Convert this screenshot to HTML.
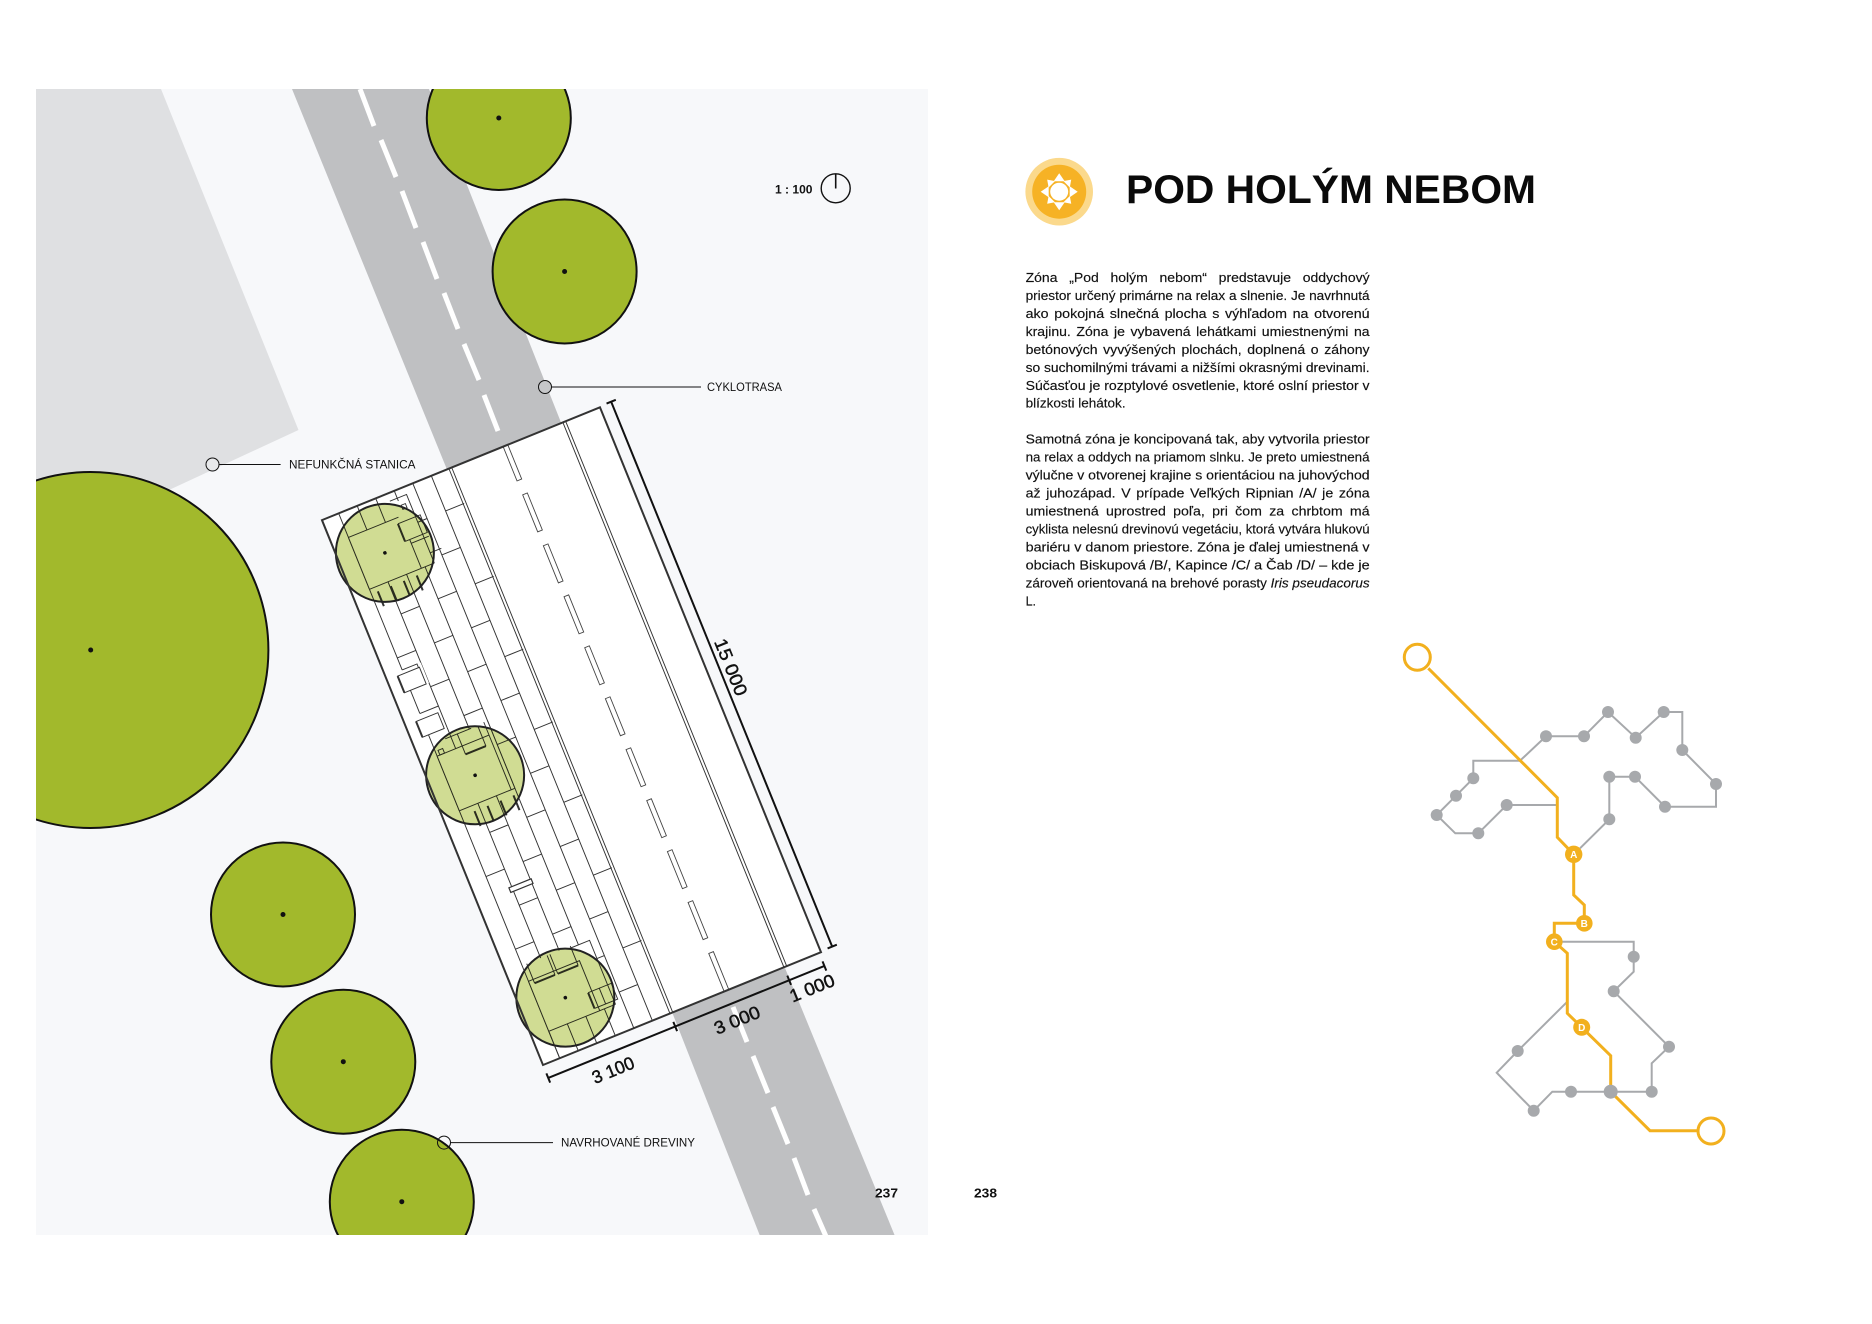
<!DOCTYPE html>
<html lang="sk">
<head>
<meta charset="utf-8">
<title>Pod holým nebom</title>
<style>
html,body{margin:0;padding:0;background:#fff;}
body{width:1872px;height:1324px;overflow:hidden;}
svg{display:block;}
text{font-family:"Liberation Sans",sans-serif;}
.b{font-size:12.5px;fill:#111;stroke:#111;stroke-width:.15px;}
.l{font-size:11.5px;fill:#111;}
.d{font-size:18px;fill:#111;stroke:#111;stroke-width:.45px;text-anchor:middle;}
.t{stroke:#333;stroke-width:.95;fill:none;}
.k{stroke:#333;stroke-width:2;fill:none;}
.p{fill:#fff;stroke:none;}
.r{font-size:10px;font-weight:bold;fill:#fff;text-anchor:middle;}
</style>
</head>
<body>
<svg width="1872" height="1324" viewBox="0 0 1872 1324" xmlns="http://www.w3.org/2000/svg">
<defs><clipPath id="pc"><rect x="36" y="89" width="892" height="1146"/></clipPath></defs>
<rect width="1872" height="1324" fill="#fff"/>
<rect x="36" y="89" width="892" height="1146" fill="#f7f8fa"/>

<g clip-path="url(#pc)">
  <polygon points="36,89 161,89 298.5,430 169,490 36,560" fill="#dfe0e2"/>
  <polygon points="292,89 429,89 562,425 448,472" fill="#bfc0c2"/>
  <polygon points="672,1012 785,968 897,1241 762,1241" fill="#bfc0c2"/>
  <g stroke="#fff" stroke-width="5" fill="none">
    <path d="M360 89L374 126M381 140L396 177M402 191L416 228M423 242L437 279M444 293L458 329M464 344L479 380M484 395L498 431"/>
    <path d="M733 1007L747 1042M753 1056L768 1093M773 1107L788 1144M794 1158L808 1195M814 1209L828 1241"/>
  </g>
  <g fill="#a2b92c" stroke="#111" stroke-width="2">
    <circle cx="498.8" cy="118" r="72"/>
    <circle cx="564.6" cy="271.5" r="72"/>
    <circle cx="90.4" cy="650" r="178"/>
    <circle cx="283" cy="914.5" r="72"/>
    <circle cx="343.3" cy="1061.7" r="72"/>
    <circle cx="401.8" cy="1201.7" r="72"/>
  </g>
  <g fill="#111">
    <circle cx="498.8" cy="118" r="2.5"/><circle cx="564.6" cy="271.5" r="2.5"/><circle cx="90.7" cy="650" r="2.5"/>
    <circle cx="283" cy="914.5" r="2.5"/><circle cx="343.3" cy="1061.7" r="2.5"/><circle cx="401.8" cy="1201.7" r="2.5"/>
  </g>
</g>

<!-- plan, rotated -->
<g transform="translate(543 1065) rotate(-22.08)">
  <rect x="0" y="-588" width="300" height="588" fill="#fff"/>
  <!-- long lines -->
  <path class="t" d="M18 -588V0M38 -588V0M58 -588V0M78 -588V0M98 -588V0M118 -588V0M137 -588V0M140 -588V0M260 -588V0M263 -588V0"/>
  <!-- joints -->
  <path class="t" d="M118 -550H138M78 -550H98M38 -550H58
  M98 -510.7H118M58 -510.7H78M18 -510.7H38
  M118 -471.4H138M78 -471.4H98M38 -471.4H58
  M98 -432H118M58 -432H78M18 -432H38
  M118 -392.8H138M78 -392.8H98M38 -392.8H58
  M98 -353.5H118M58 -353.5H78M18 -353.5H38
  M118 -314.2H138M78 -314.2H98M38 -314.2H58
  M98 -275H118M58 -275H78M18 -275H38
  M118 -235.6H138M78 -235.6H98M38 -235.6H58
  M98 -196H118M58 -196H78M18 -196H38
  M118 -157H138M78 -157H98M38 -157H58
  M98 -117.7H118M58 -117.7H78M18 -117.7H38
  M118 -78.4H138M78 -78.4H98M38 -78.4H58
  M98 -39H118M58 -39H78M18 -39H38"/>
  <!-- road centre dashes -->
  <g fill="#fff" stroke="#444" stroke-width=".9">
    <rect x="195.5" y="-588" width="5" height="37"/>
    <rect x="195.5" y="-536" width="5" height="40"/>
    <rect x="195.5" y="-481" width="5" height="40"/>
    <rect x="195.5" y="-426" width="5" height="40"/>
    <rect x="195.5" y="-371" width="5" height="40"/>
    <rect x="195.5" y="-316" width="5" height="40"/>
    <rect x="195.5" y="-261" width="5" height="40"/>
    <rect x="195.5" y="-206" width="5" height="40"/>
    <rect x="195.5" y="-151" width="5" height="40"/>
    <rect x="195.5" y="-96" width="5" height="40"/>
    <rect x="195.5" y="-41" width="5" height="41"/>
  </g>
  <!-- loungers between trees -->
  <rect class="p" x="11" y="-419" width="27" height="22"/>
  <path class="t" d="M11 -415H35V-397H11M18 -419H34V-415"/>
  <path class="k" d="M11.5 -415V-397"/>
  <rect class="p" x="11" y="-372" width="28" height="23"/>
  <path class="t" d="M11 -366H35V-349H11M18 -372H38V-349"/>
  <path class="k" d="M11.5 -366V-349"/>
  <rect x="35" y="-177" width="24" height="5" fill="#fff" stroke="#333" stroke-width="1.2"/>

  <!-- platform 1 -->
  <polygon class="p" points="18,-562 68,-562 68,-577 88,-577 88,-506 18,-506"/>
  <path class="t" d="M18 -562H72M18 -506H88M70 -580H88V-506M69 -556H93L93 -537H69M74 -537V-506M74 -533H93M88 -517H100"/>
  <rect class="t" x="79" y="-572" width="4.5" height="4.5"/>
  <path class="k" d="M69 -556V-537M25 -501V-485M39 -501V-485M53 -501V-485M67 -501V-485"/>
  <path class="t" d="M18 -562V-506"/>

  <!-- platform 2 -->
  <polygon class="p" points="18,-326 45,-326 45,-339 78,-339 78,-267 18,-267"/>
  <path class="t" d="M18 -326H74M18 -267H78M74 -340V-267M78 -340V-267M45 -339V-317M67 -339V-317M32 -339H60M18 -326V-267"/>
  <rect class="t" x="21" y="-331" width="5" height="5"/>
  <path class="k" d="M45 -317H67M32 -261V-245M46 -261V-245M60 -261V-245M74 -261V-245"/>

  <!-- platform 3 -->
  <polygon class="p" points="18,-83 23,-83 23,-100 68,-100 68,-98 90,-98 90,-29 18,-29"/>
  <path class="t" d="M18 -83H73V-29M18 -29H90M18 -83V0M23 -100V-79M45 -100V-79M48 -100V-79M70 -100V-79M68 -98H90V-29M69 -50H94V-33H69M81 -50V-33"/>
  <path class="k" d="M23 -79H45M48 -79H70M69 -50V-33"/>

  <!-- tree canopies over plan -->
  <g fill="#d0dc93" style="mix-blend-mode:multiply">
    <circle cx="46" cy="-534" r="49"/>
    <circle cx="46" cy="-294" r="49"/>
    <circle cx="46" cy="-54" r="49"/>
  </g>
  <g fill="none" stroke="#222" stroke-width="2">
    <circle cx="46" cy="-534" r="49"/>
    <circle cx="46" cy="-294" r="49"/>
    <circle cx="46" cy="-54" r="49"/>
  </g>
  <g fill="#111">
    <circle cx="46" cy="-534" r="1.8"/><circle cx="46" cy="-294" r="1.8"/><circle cx="46" cy="-54" r="1.8"/>
  </g>
  <rect x="0" y="-588" width="300" height="588" fill="none" stroke="#333" stroke-width="2"/>
  <!-- dimensions -->
  <path d="M312.5 -589V-1M307.5 -589H317.5M307.5 -1H317.5" stroke="#111" stroke-width="2" fill="none"/>
  <path d="M0 14H298M0 9V19M137 9V19M260 9V19M298 9V19" stroke="#111" stroke-width="2" fill="none"/>
</g>

<text class="d" transform="translate(613 1070) rotate(-22.08)" dy=".35em" textLength="44" lengthAdjust="spacingAndGlyphs">3 100</text>
<text class="d" transform="translate(737 1020) rotate(-22.08)" dy=".35em" textLength="48" lengthAdjust="spacingAndGlyphs">3 000</text>
<text class="d" transform="translate(812 988) rotate(-22.08)" dy=".35em" textLength="47" lengthAdjust="spacingAndGlyphs">1 000</text>
<text class="d" transform="translate(731 667) rotate(67.92)" dy=".35em" textLength="60" lengthAdjust="spacingAndGlyphs">15 000</text>

<!-- callouts -->
<g stroke="#111" stroke-width="1" fill="none">
  <circle cx="545" cy="387" r="6.5" fill="#c6c7c9"/><path d="M551.5 387H701"/>
  <circle cx="212.5" cy="464.5" r="6.5" fill="#e8e9eb"/><path d="M219 464.5H280.6"/>
  <circle cx="444" cy="1142.6" r="6.5"/><path d="M450.5 1142.6H553"/>
</g>
<text class="l" x="707" y="391" textLength="75" lengthAdjust="spacingAndGlyphs">CYKLOTRASA</text>
<text class="l" x="289" y="468.5" textLength="126.5" lengthAdjust="spacingAndGlyphs">NEFUNKČNÁ STANICA</text>
<text class="l" x="561" y="1146.6" textLength="134" lengthAdjust="spacingAndGlyphs">NAVRHOVANÉ DREVINY</text>

<!-- scale -->
<text x="775" y="193.3" font-size="11.5" font-weight="bold" fill="#111" textLength="37.5" lengthAdjust="spacingAndGlyphs">1 : 100</text>
<circle cx="835.7" cy="188.3" r="14.5" fill="none" stroke="#111" stroke-width="1.4"/>
<path d="M835.7 174V188.5" stroke="#111" stroke-width="1.6"/>

<!-- page numbers -->
<text x="875" y="1197.5" font-size="13" font-weight="bold" fill="#111" textLength="23" lengthAdjust="spacingAndGlyphs">237</text>
<text x="974" y="1197.5" font-size="13" font-weight="bold" fill="#111" textLength="23" lengthAdjust="spacingAndGlyphs">238</text>

<!-- heading icon -->
<circle cx="1059.2" cy="191.7" r="33.8" fill="#fbd98c"/>
<circle cx="1059.2" cy="191.7" r="27" fill="#f6b225"/>
<g fill="#fff" transform="translate(1059.2 191.7)">
  <circle r="9"/>
  <polygon points="-5.5,-10.5 5.5,-10.5 0,-18.5"/>
  <polygon points="-4.5,-10.5 4.5,-10.5 0,-17" transform="rotate(45)"/>
  <polygon points="-5.5,-10.5 5.5,-10.5 0,-18.5" transform="rotate(90)"/>
  <polygon points="-4.5,-10.5 4.5,-10.5 0,-17" transform="rotate(135)"/>
  <polygon points="-5.5,-10.5 5.5,-10.5 0,-18.5" transform="rotate(180)"/>
  <polygon points="-4.5,-10.5 4.5,-10.5 0,-17" transform="rotate(225)"/>
  <polygon points="-5.5,-10.5 5.5,-10.5 0,-18.5" transform="rotate(270)"/>
  <polygon points="-4.5,-10.5 4.5,-10.5 0,-17" transform="rotate(315)"/>
</g>
<text x="1126" y="203" font-size="40" font-weight="bold" fill="#0a0a0a" textLength="410" lengthAdjust="spacingAndGlyphs">POD HOLÝM NEBOM</text>

<!-- body -->
<g>
<text class="b" x="1025.6" y="282" word-spacing="7" textLength="344" lengthAdjust="spacingAndGlyphs">Zóna „Pod holým nebom“ predstavuje oddychový</text>
<text class="b" x="1025.6" y="300" textLength="344" lengthAdjust="spacingAndGlyphs">priestor určený primárne na relax a slnenie. Je navrhnutá</text>
<text class="b" x="1025.6" y="317.9" word-spacing="1.5" textLength="344" lengthAdjust="spacingAndGlyphs">ako pokojná slnečná plocha s výhľadom na otvorenú</text>
<text class="b" x="1025.6" y="335.9" word-spacing="1.5" textLength="344" lengthAdjust="spacingAndGlyphs">krajinu. Zóna je vybavená lehátkami umiestnenými na</text>
<text class="b" x="1025.6" y="353.8" word-spacing="1.5" textLength="344" lengthAdjust="spacingAndGlyphs">betónových vyvýšených plochách, doplnená o záhony</text>
<text class="b" x="1025.6" y="371.8" textLength="344" lengthAdjust="spacingAndGlyphs">so suchomilnými trávami a nižšími okrasnými drevinami.</text>
<text class="b" x="1025.6" y="389.8" textLength="344" lengthAdjust="spacingAndGlyphs">Súčasťou je rozptylové osvetlenie, ktoré oslní priestor v</text>
<text class="b" x="1025.6" y="407.7" textLength="100" lengthAdjust="spacingAndGlyphs">blízkosti lehátok.</text>

<text class="b" x="1025.6" y="443.6" textLength="344" lengthAdjust="spacingAndGlyphs">Samotná zóna je koncipovaná tak, aby vytvorila priestor</text>
<text class="b" x="1025.6" y="461.6" textLength="344" lengthAdjust="spacingAndGlyphs">na relax a oddych na priamom slnku. Je preto umiestnená</text>
<text class="b" x="1025.6" y="479.6" textLength="344" lengthAdjust="spacingAndGlyphs">výlučne v otvorenej krajine s orientáciou na juhovýchod</text>
<text class="b" x="1025.6" y="497.5" word-spacing="1.5" textLength="344" lengthAdjust="spacingAndGlyphs">až  juhozápad. V prípade Veľkých Ripnian  /A/ je zóna</text>
<text class="b" x="1025.6" y="515.5" word-spacing="3" textLength="344" lengthAdjust="spacingAndGlyphs">umiestnená uprostred poľa, pri čom za chrbtom má</text>
<text class="b" x="1025.6" y="533.4" textLength="344" lengthAdjust="spacingAndGlyphs">cyklista nelesnú drevinovú vegetáciu, ktorá vytvára hlukovú</text>
<text class="b" x="1025.6" y="551.4" textLength="344" lengthAdjust="spacingAndGlyphs">bariéru v danom priestore. Zóna je ďalej umiestnená v</text>
<text class="b" x="1025.6" y="569.4" textLength="344" lengthAdjust="spacingAndGlyphs">obciach Biskupová /B/, Kapince /C/ a Čab /D/ –  kde je</text>
<text class="b" x="1025.6" y="587.3" textLength="344" lengthAdjust="spacingAndGlyphs">zároveň orientovaná na brehové porasty <tspan font-style="italic">Iris pseudacorus</tspan></text>
<text class="b" x="1025.6" y="605.3">L.</text>
</g>

<!-- route map: grey -->
<g fill="none" stroke="#a7a9ac" stroke-width="2">
  <path d="M1520 760.7H1473.3V778.3L1456 795.7L1436.7 815L1455.3 833.3H1478.3L1506.7 805H1557.3"/>
  <path d="M1520 760.7L1546 736.3H1584L1608 712L1635.7 737.7L1663.7 712H1682.3V750L1716 784V806.7H1665L1635 776.7H1609.3V819.3L1580 848.3"/>
  <path d="M1562 941.7H1633.7V956.7V971.7L1613.7 991.3L1669 1046.7L1651.7 1063.3V1091.7H1610.7H1571H1552.3L1533.7 1110.7L1496.7 1072.7L1517.7 1051L1567.3 1001.7"/>
</g>
<g fill="#a7a9ac">
  <circle cx="1473.3" cy="778.3" r="6"/><circle cx="1456" cy="795.7" r="6"/><circle cx="1436.7" cy="815" r="6"/>
  <circle cx="1478.3" cy="833.3" r="6"/><circle cx="1506.7" cy="805" r="6"/>
  <circle cx="1546" cy="736.3" r="6"/><circle cx="1584" cy="736.3" r="6"/><circle cx="1608" cy="712" r="6"/>
  <circle cx="1635.7" cy="737.7" r="6"/><circle cx="1663.7" cy="712" r="6"/><circle cx="1682.3" cy="750" r="6"/>
  <circle cx="1716" cy="784" r="6"/><circle cx="1665" cy="806.7" r="6"/><circle cx="1635" cy="776.7" r="6"/>
  <circle cx="1609.3" cy="776.7" r="6"/><circle cx="1609.3" cy="819.3" r="6"/>
  <circle cx="1633.7" cy="956.7" r="6"/><circle cx="1613.7" cy="991.3" r="6"/><circle cx="1669" cy="1046.7" r="6"/>
  <circle cx="1651.7" cy="1091.7" r="6"/><circle cx="1571" cy="1091.7" r="6"/><circle cx="1533.7" cy="1110.7" r="6"/>
  <circle cx="1517.7" cy="1051" r="6"/>
</g>
<!-- route map: yellow -->
<g fill="none" stroke="#f2b01e" stroke-width="3">
  <circle cx="1417.3" cy="657.3" r="13" fill="#fff"/>
  <path d="M1428.3 668.3L1557.3 797.7V837.3L1573.7 854.3V895L1584.3 905V923.3H1554.3V941.7L1567.3 953.3V1013.3L1581.7 1027.3L1610.7 1055.7V1091.7L1650 1130.7H1698"/>
  <circle cx="1711" cy="1131" r="13" fill="#fff"/>
</g>
<circle cx="1610.7" cy="1091.7" r="7" fill="#a7a9ac"/>
<g fill="#f2b01e">
  <circle cx="1573.7" cy="854.3" r="8.7"/>
  <circle cx="1584.3" cy="923.3" r="8.3"/>
  <circle cx="1554.3" cy="941.7" r="8.3"/>
  <circle cx="1581.7" cy="1027.3" r="8.5"/>
</g>
<text class="r" x="1573.7" y="858">A</text>
<text class="r" x="1584.3" y="927">B</text>
<text class="r" x="1554.3" y="945.4">C</text>
<text class="r" x="1581.7" y="1031">D</text>
</svg>
</body>
</html>
